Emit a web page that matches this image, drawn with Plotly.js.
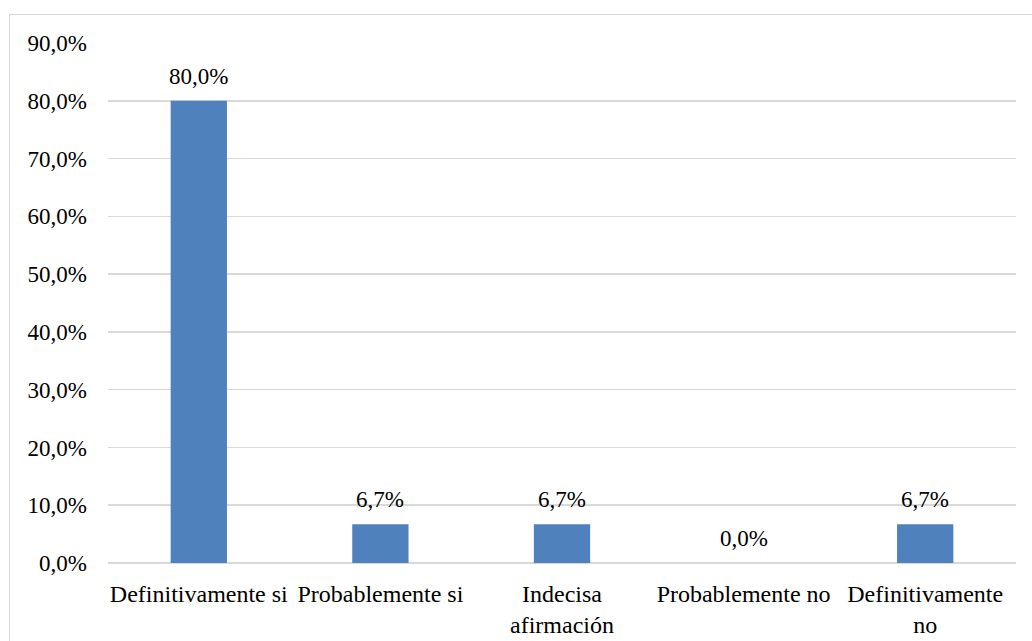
<!DOCTYPE html>
<html>
<head>
<meta charset="utf-8">
<script src="https://cdn.plot.ly/plotly-3.0.1.min.js"></script>
<style>
html,body{margin:0;padding:0;background:#fff;}
#wrap{position:relative;width:1032px;height:641px;overflow:hidden;}
#border{position:absolute;left:9px;top:14px;width:1040px;height:700px;border:1.5px solid #d9d9d9;box-sizing:border-box;pointer-events:none;}
#chart{position:absolute;left:0;top:0;width:1032px;height:641px;}
</style>
</head>
<body>
<div id="wrap">
<div id="chart"></div>
<div id="border"></div>
</div>
<script>
const categories = ["Definitivamente si", "Probablemente si", "Indecisa<br>afirmación", "Probablemente no", "Definitivamente<br>no"];
const values = [0.800, 0.067, 0.067, 0.000, 0.067];
const tickValues = [0, 0.1, 0.2, 0.3, 0.4, 0.5, 0.6, 0.7, 0.8, 0.9];

const fontFam = 'Liberation Serif, Times New Roman, serif';

const trace = {
  type: 'bar',
  x: categories,
  y: values,
  marker: {color: '#4F81BD'},
  hoverinfo: 'skip'
};

const annotations = categories.map((c, i) => ({
  x: c,
  y: values[i],
  xref: 'x',
  yref: 'y',
  text: (values[i] * 100).toFixed(1).replace('.', ',') + '%',
  showarrow: false,
  yanchor: 'bottom',
  yshift: 10,
  font: {family: fontFam, size: 23, color: '#000'}
}));

const layout = {
  width: 1032,
  height: 641,
  margin: {l: 108, r: 16, t: 43, b: 78, pad: 0},
  paper_bgcolor: 'rgba(0,0,0,0)',
  plot_bgcolor: 'rgba(0,0,0,0)',
  separators: ',.',
  bargap: 0.69,
  showlegend: false,
  font: {family: fontFam, size: 23, color: '#000'},
  xaxis: {
    type: 'category',
    showgrid: false,
    showline: false,
    ticks: '',
    tickangle: 0,
    automargin: false,
    ticklabelstandoff: 14,
    tickfont: {family: fontFam, size: 24, color: '#000'}
  },
  yaxis: {
    range: [0, 0.9],
    tickvals: tickValues,
    tickformat: '.1%',
    showgrid: true,
    gridcolor: '#d9d9d9',
    gridwidth: 1.5,
    zeroline: true,
    zerolinecolor: '#d9d9d9',
    zerolinewidth: 1.5,
    showline: false,
    ticks: '',
    ticklabelstandoff: 20,
    automargin: false,
    tickfont: {family: fontFam, size: 23, color: '#000'}
  },
  annotations: annotations
};

Plotly.newPlot('chart', [trace], layout, {displayModeBar: false, staticPlot: true});
</script>
</body>
</html>
